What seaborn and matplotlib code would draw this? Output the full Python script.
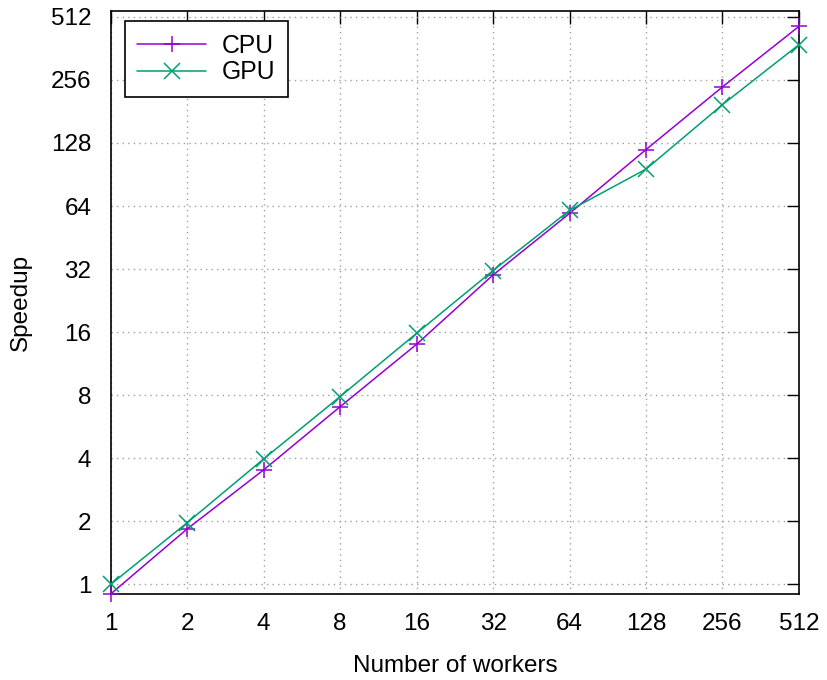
import matplotlib
matplotlib.use("Agg")
import matplotlib.pyplot as plt
import matplotlib.ticker as mticker
import numpy as np
import pandas as pd
import seaborn as sns

# Measured speedup versus number of workers
workers = [1, 2, 4, 8, 16, 32, 64, 128, 256, 512]
cpu_speedup = [0.9, 1.84, 3.52, 7.05, 14.0, 30.0, 59, 119, 237, 461]
gpu_speedup = [1.0, 1.97, 3.97, 7.88, 15.8, 31.5, 61, 96, 195, 377]
x_ticks = [1, 2, 4, 8, 16, 32, 64, 128, 256, 512]
y_ticks = [1, 2, 4, 8, 16, 32, 64, 128, 256, 512]

df = pd.DataFrame({
    "workers": workers * 2,
    "speedup": cpu_speedup + gpu_speedup,
    "device": ["CPU"] * len(workers) + ["GPU"] * len(workers),
})

sns.set_style("white")
plt.rcParams["font.family"] = ["Liberation Sans", "DejaVu Sans"]
plt.rcParams["font.size"] = 17.5
plt.rcParams["text.color"] = "black"
plt.rcParams["axes.labelcolor"] = "black"

fig = plt.figure(figsize=(8.27, 6.8), dpi=100)
ax = fig.add_axes([0.134, 0.1265, 0.832, 0.8575])

palette = {"CPU": "#9400D3", "GPU": "#009E73"}
sns.lineplot(data=df, x="workers", y="speedup", hue="device", style="device",
             palette=palette, markers={"CPU": "+", "GPU": "x"}, dashes=False,
             markersize=11.5, markeredgewidth=1.1, linewidth=1.1, ax=ax)

# unfilled markers take the line colour; points on the frame stay whole
for line in ax.get_lines():
    line.set_markeredgecolor(line.get_color())
    line.set_clip_on(False)
    line.set_zorder(3)

ax.set_xscale("log", base=2)
ax.set_yscale("log", base=2)
ax.set_xlim(1, 512)
ax.set_ylim(0.899, 547)

ax.xaxis.set_major_locator(mticker.FixedLocator(x_ticks))
ax.xaxis.set_minor_locator(mticker.NullLocator())
ax.set_xticklabels([str(v) for v in x_ticks])
ax.yaxis.set_major_locator(mticker.FixedLocator(y_ticks))
ax.yaxis.set_minor_locator(mticker.NullLocator())
ax.set_yticklabels([str(v) for v in y_ticks])

ax.tick_params(axis="both", which="major", direction="in", length=9, width=1,
               top=True, right=True, labelsize=17.5, colors="black")
ax.tick_params(axis="x", pad=14)
ax.tick_params(axis="y", pad=14)

ax.grid(True, which="major", linestyle=(0, (1, 3)), color="#a0a0a0", linewidth=1)
for s in ax.spines.values():
    s.set_visible(True)
    s.set_color("black")
    s.set_linewidth(1.2)

ax.set_xlabel("Number of workers", fontsize=17.5, labelpad=14, color="black")
ax.set_ylabel("Speedup", fontsize=17.5, labelpad=14, color="black")

leg = ax.legend(loc="upper left", bbox_to_anchor=(0.02, 0.982), fontsize=17.8,
                frameon=True, fancybox=False, handlelength=2.8,
                borderpad=0.5, labelspacing=0.1, handletextpad=0.65,
                borderaxespad=0)
leg.get_frame().set_edgecolor("black")
leg.get_frame().set_linewidth(1.2)
leg.get_frame().set_alpha(1)
for h in leg.legend_handles:
    h.set_markeredgecolor(h.get_color())

fig.savefig("out.png", dpi=100)
